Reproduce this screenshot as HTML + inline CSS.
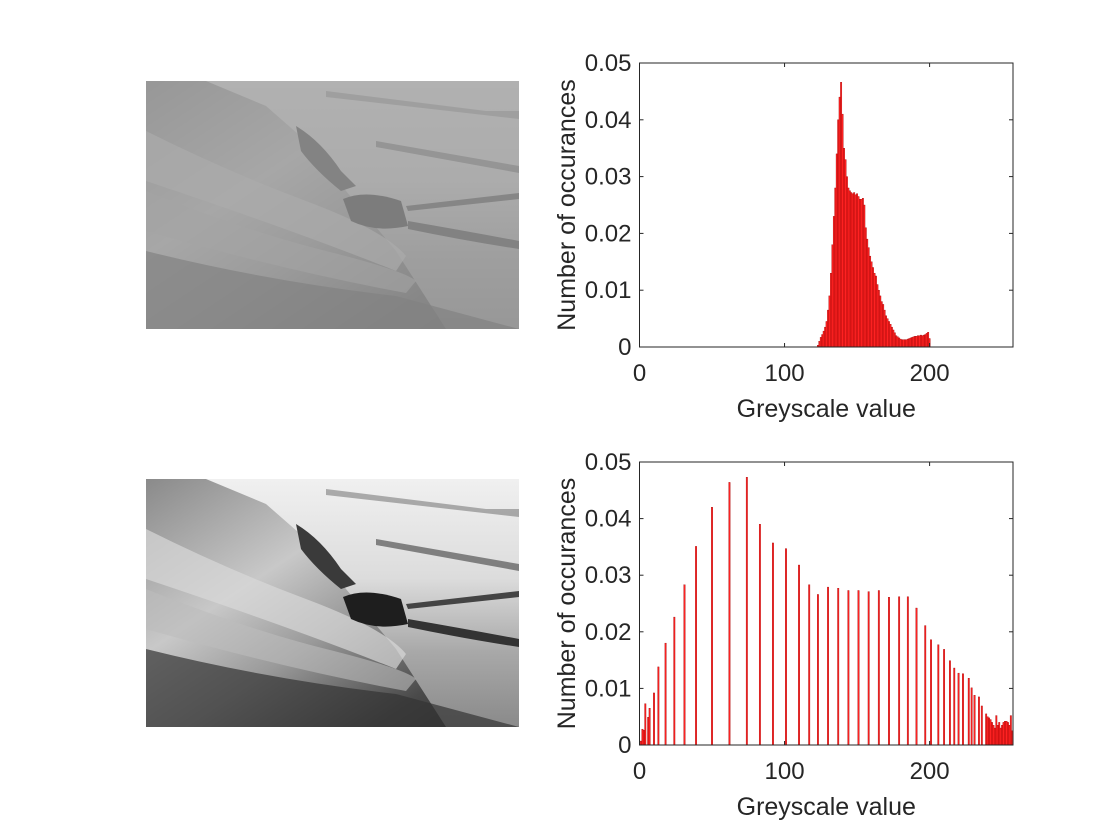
<!DOCTYPE html>
<html><head><meta charset="utf-8"><style>
html,body{margin:0;padding:0;background:#fff;}
svg{display:block;font-family:"Liberation Sans",Arial,sans-serif;}
</style></head><body>
<svg id="fig" width="1120" height="840" viewBox="0 0 1120 840" xmlns="http://www.w3.org/2000/svg">
<defs>
<linearGradient id="slope" x1="0" y1="0" x2="1" y2="1">
<stop offset="0" stop-color="#8a8a8a"/><stop offset="0.35" stop-color="#c8c8c8"/><stop offset="0.55" stop-color="#9a9a9a"/><stop offset="0.8" stop-color="#4a4a4a"/><stop offset="1" stop-color="#2a2a2a"/>
</linearGradient>
<linearGradient id="valley" x1="0" y1="0" x2="0" y2="1">
<stop offset="0" stop-color="#f0f0f0"/><stop offset="0.4" stop-color="#dcdcdc"/><stop offset="0.7" stop-color="#a8a8a8"/><stop offset="1" stop-color="#8a8a8a"/>
</linearGradient>
<filter id="flat" color-interpolation-filters="sRGB"><feComponentTransfer>
<feFuncR type="linear" slope="0.25" intercept="0.46"/><feFuncG type="linear" slope="0.25" intercept="0.46"/><feFuncB type="linear" slope="0.25" intercept="0.46"/>
</feComponentTransfer></filter>
<g id="scene">
<rect x="0" y="0" width="373" height="248" fill="url(#slope)"/>
<path d="M60,0 L373,0 L373,248 L300,248 L250,170 L200,110 L160,60 L120,25 Z" fill="url(#valley)"/>
<path d="M0,50 Q80,90 160,120 T260,175 L250,190 Q150,150 0,100 Z" fill="#d8d8d8" opacity="0.7"/>
<path d="M0,110 Q100,150 180,170 T270,200 L260,212 Q140,190 0,150 Z" fill="#bdbdbd" opacity="0.6"/>
<path d="M0,170 Q120,200 250,215 L373,248 L0,248 Z" fill="#333" opacity="0.7"/>
<path d="M197,118 Q220,108 255,120 L262,145 Q230,152 205,140 Z" fill="#1e1e1e"/>
<path d="M150,45 Q175,60 195,90 L210,105 L195,110 Q170,90 155,70 Z" fill="#3a3a3a"/>
<path d="M260,125 L373,112 L373,118 L262,130 Z" fill="#444"/>
<path d="M262,140 Q320,150 373,160 L373,168 Q320,160 262,148 Z" fill="#333"/>
<path d="M230,60 L373,85 L373,92 L230,66 Z" fill="#555" opacity="0.7"/>
<path d="M180,10 L340,30 L373,30 L373,38 L180,16 Z" fill="#666" opacity="0.5"/>
</g>
</defs>
<g transform="translate(146,81)" filter="url(#flat)"><use href="#scene"/></g>
<g transform="translate(146,479)"><use href="#scene"/></g>
<g id="ax1"></g>
<g id="ax2"></g>
</svg>
<script>
const xTicks=[0,100,200];
const yTicks=[0,0.01,0.02,0.03,0.04,0.05];
const yTickLabels=["0","0.01","0.02","0.03","0.04","0.05"];
const topStart=123;
const topValues=[.0003,.001,.0017,.0022,.0028,.0035,.0045,.0065,.009,.013,.018,.023,.028,.034,.040,.044,.0466,.041,.035,.033,.030,.028,.0275,.0272,.027,.0272,.0268,.027,.0265,.026,.026,.0262,.025,.021,.019,.0175,.016,.015,.014,.013,.0125,.011,.010,.009,.008,.0075,.0065,.0055,.005,.0045,.004,.0035,.003,.0025,.002,.0018,.0016,.0014,.0013,.0013,.0013,.0013,.0014,.0015,.0016,.0017,.0018,.0019,.0019,.002,.002,.0021,.002,.0021,.0022,.0024,.0026,.0015];
const botBins=[1,2,3,4,6,7,10,13,18,24,31,39,50,62,74,83,92,101,110,117,123,130,137,144,151,158,165,172,179,185,191,197,201,206,210,214,217,220,223,227,229,231,234,236,239,240,241,242,243,244,245,246,247,248,249,250,251,252,253,254,255,256,257];
const botValues=[.0007,.0028,.0026,.0073,.0049,.0065,.0092,.0138,.018,.0226,.0283,.0351,.042,.0464,.0473,.039,.0357,.0347,.0318,.0283,.0266,.0279,.0277,.0273,.0273,.0271,.0273,.0261,.0262,.0262,.0242,.0211,.0186,.0177,.0169,.0149,.0136,.0127,.0126,.0118,.0101,.0088,.0085,.0069,.0055,.005,.0048,.0045,.004,.0035,.003,.0052,.0035,.004,.003,.0035,.004,.0042,.0042,.004,.0035,.0052,.0025];
const NS="http://www.w3.org/2000/svg";
const X0=639.5,X1=1013,XMAX=257.5;
function mk(p,tag,at){const e=document.createElementNS(NS,tag);for(const k in at)e.setAttribute(k,at[k]);p.appendChild(e);return e;}
function axis(g,top,bottom,bins,vals){
  const sx=v=>X0+(v/XMAX)*(X1-X0);
  const sy=v=>bottom-(v/0.05)*(bottom-top);
  const bw=(X1-X0)/XMAX;
  for(let i=0;i<vals.length;i++){
    const b=bins[i];
    const r=mk(g,'rect',{x:sx(b)-bw/2,y:sy(vals[i]),width:bw,height:bottom-sy(vals[i]),fill:'#ff2222',stroke:'#a00000','stroke-width':0.35});
    
    
  }
  const box=mk(g,'rect',{x:X0,y:top,width:X1-X0,height:bottom-top,fill:'none',stroke:'#262626','stroke-width':1});
  
  
  xTicks.forEach(t=>{
    const x=sx(t);
    mk(g,'line',{x1:x,x2:x,y1:bottom,y2:bottom-4,stroke:'#262626'});
    mk(g,'line',{x1:x,x2:x,y1:top,y2:top+4,stroke:'#262626'});
    const tx=mk(g,'text',{x:x,y:bottom+34,'text-anchor':'middle','font-size':24,fill:'#262626'});
    tx.textContent=t;
    
    
  });
  yTicks.forEach((t,i)=>{
    const y=sy(t);
    mk(g,'line',{x1:X0,x2:X0+4,y1:y,y2:y,stroke:'#262626'});
    mk(g,'line',{x1:X1,x2:X1-4,y1:y,y2:y,stroke:'#262626'});
    const tx=mk(g,'text',{x:X0-8,y:y+8,'text-anchor':'end','font-size':24,fill:'#262626'});
    tx.textContent=yTickLabels[i];
    
    
  });
  const xl=mk(g,'text',{x:(X0+X1)/2,y:bottom+70,'text-anchor':'middle','font-size':25,fill:'#262626'});
  xl.textContent='Greyscale value';
  
  
  const cy=(top+bottom)/2;
  const yl=mk(g,'text',{x:575,y:cy,'text-anchor':'middle','font-size':25,fill:'#262626',transform:`rotate(-90 575 ${cy})`});
  yl.textContent='Number of occurances';
  
  
}
const topBins=topValues.map((v,i)=>topStart+i);
axis(document.getElementById('ax1'),63,347,topBins,topValues);
axis(document.getElementById('ax2'),462,745,botBins,botValues);
</script>
</body></html>
